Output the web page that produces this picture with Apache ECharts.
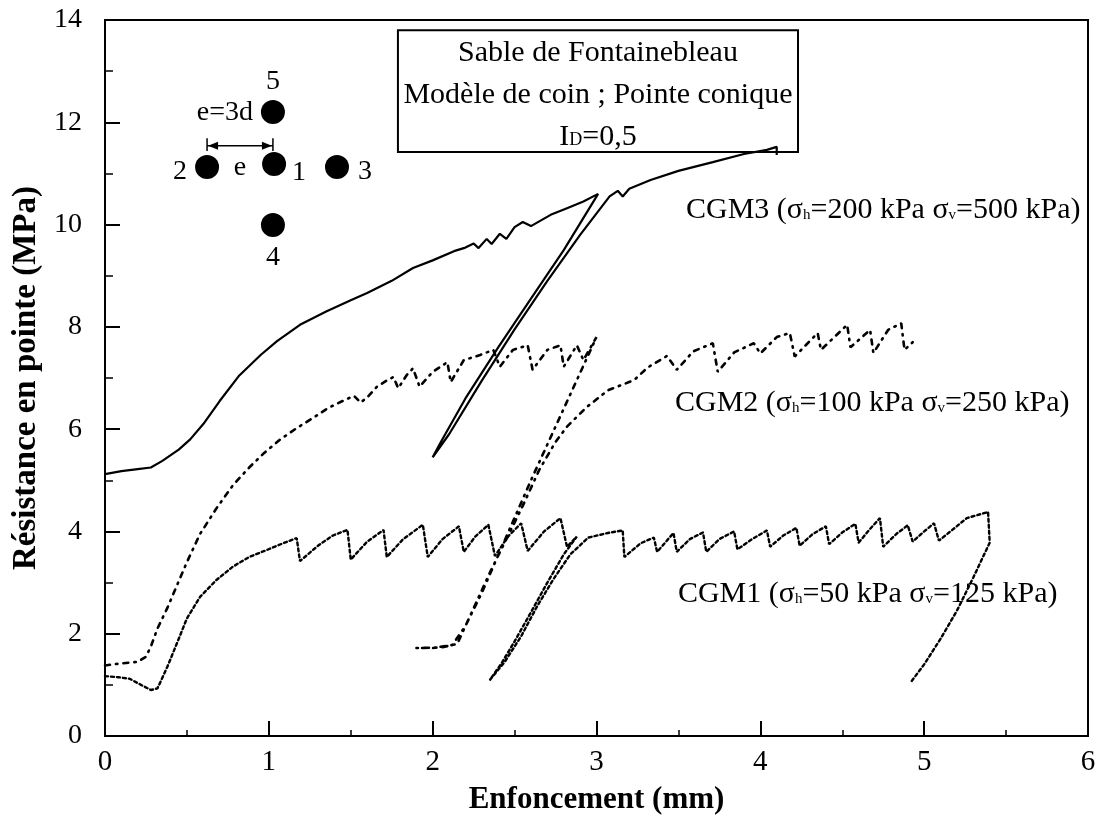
<!DOCTYPE html>
<html><head><meta charset="utf-8">
<script src="https://cdn.jsdelivr.net/npm/echarts@6/dist/echarts.min.js"></script>
<style>html,body{margin:0;padding:0;background:#fff}#c{width:1102px;height:827px}</style>
</head><body><div id="c"></div>
<script>
// ---- data (Enfoncement mm, Résistance MPa) ----
const cgm3 = [[0,5.12],[0.1,5.18],[0.2,5.22],[0.28,5.25],[0.35,5.38],[0.45,5.6],[0.52,5.8],[0.6,6.1],[0.7,6.55],[0.82,7.05],[0.95,7.45],[1.05,7.72],[1.19,8.04],[1.35,8.3],[1.5,8.52],[1.6,8.66],[1.75,8.9],[1.88,9.15],[2.0,9.3],[2.13,9.48],[2.2,9.55],[2.25,9.63],[2.28,9.54],[2.33,9.72],[2.36,9.62],[2.41,9.82],[2.45,9.72],[2.5,9.95],[2.55,10.05],[2.6,9.97],[2.72,10.19],[2.82,10.32],[2.92,10.45],[3.01,10.6],[2.8,9.5],[2.6,8.55],[2.4,7.6],[2.2,6.6],[2.05,5.75],[2.0,5.45],[2.1,5.9],[2.3,6.95],[2.5,7.95],[2.7,8.9],[2.9,9.8],[3.08,10.55],[3.13,10.66],[3.16,10.55],[3.2,10.7],[3.33,10.87],[3.5,11.05],[3.71,11.22],[3.9,11.38],[4.04,11.46],[4.1,11.52],[4.1,11.36]];
const cgm2 = [[0,1.38],[0.1,1.42],[0.2,1.45],[0.25,1.55],[0.28,1.75],[0.32,2.1],[0.38,2.5],[0.44,2.95],[0.5,3.4],[0.58,3.95],[0.68,4.45],[0.78,4.9],[0.88,5.25],[0.97,5.53],[1.07,5.8],[1.17,6.02],[1.27,6.22],[1.36,6.41],[1.45,6.55],[1.52,6.65],[1.56,6.52],[1.6,6.62],[1.66,6.83],[1.72,6.95],[1.76,7.02],[1.79,6.8],[1.84,7.05],[1.88,7.19],[1.92,6.83],[2.0,7.12],[2.09,7.31],[2.11,6.92],[2.19,7.35],[2.29,7.45],[2.37,7.55],[2.41,7.22],[2.49,7.55],[2.58,7.64],[2.61,7.16],[2.7,7.55],[2.78,7.64],[2.8,7.22],[2.88,7.64],[2.92,7.35],[3.0,7.8],[2.9,7.1],[2.75,6.05],[2.6,5.0],[2.45,3.9],[2.3,2.8],[2.2,2.15],[2.12,1.78],[2.0,1.72],[1.9,1.72],[2.05,1.73],[2.15,1.8],[2.25,2.5],[2.35,3.2],[2.45,3.85],[2.55,4.5],[2.65,5.2],[2.75,5.75],[2.82,6.05],[2.94,6.43],[3.07,6.76],[3.23,6.96],[3.31,7.2],[3.43,7.43],[3.49,7.16],[3.59,7.52],[3.71,7.68],[3.74,7.12],[3.84,7.5],[3.96,7.68],[4.0,7.48],[4.1,7.8],[4.18,7.88],[4.21,7.42],[4.35,7.88],[4.37,7.55],[4.53,8.04],[4.55,7.6],[4.67,7.94],[4.69,7.49],[4.78,7.94],[4.86,8.07],[4.88,7.55],[4.93,7.7]];
const cgm1 = [[0,1.17],[0.08,1.15],[0.15,1.12],[0.22,1.0],[0.28,0.9],[0.32,0.93],[0.38,1.35],[0.44,1.82],[0.5,2.3],[0.58,2.72],[0.68,3.05],[0.78,3.31],[0.88,3.5],[0.99,3.64],[1.08,3.76],[1.17,3.87],[1.19,3.42],[1.3,3.72],[1.39,3.92],[1.48,4.03],[1.5,3.45],[1.6,3.8],[1.7,4.03],[1.72,3.5],[1.82,3.85],[1.94,4.13],[1.97,3.5],[2.06,3.85],[2.16,4.1],[2.19,3.6],[2.26,3.9],[2.34,4.13],[2.38,3.52],[2.46,3.9],[2.54,4.16],[2.58,3.62],[2.68,4.0],[2.78,4.26],[2.82,3.7],[2.88,3.9],[2.8,3.55],[2.7,3.0],[2.6,2.42],[2.5,1.85],[2.42,1.42],[2.35,1.1],[2.44,1.45],[2.54,1.95],[2.64,2.55],[2.74,3.08],[2.84,3.55],[2.95,3.88],[3.07,3.97],[3.16,4.02],[3.17,3.5],[3.27,3.77],[3.35,3.88],[3.37,3.6],[3.47,3.97],[3.49,3.6],[3.57,3.85],[3.65,3.98],[3.67,3.6],[3.75,3.85],[3.84,4.0],[3.86,3.65],[3.95,3.85],[4.04,4.02],[4.06,3.7],[4.14,3.92],[4.22,4.07],[4.24,3.72],[4.32,3.95],[4.4,4.1],[4.42,3.75],[4.5,3.98],[4.58,4.15],[4.6,3.78],[4.67,4.05],[4.73,4.26],[4.75,3.7],[4.83,3.95],[4.9,4.12],[4.93,3.8],[5.0,4.0],[5.06,4.16],[5.09,3.82],[5.16,4.0],[5.26,4.26],[5.39,4.38],[5.4,3.78],[5.3,3.1],[5.2,2.45],[5.1,1.9],[5.0,1.4],[4.92,1.06]];
const seriesNames = ['CGM3','CGM2','CGM1'];
const sigmaH = ['200','100','50'];
const sigmaV = ['500','250','125'];
const boxLines = ['Sable de Fontainebleau','Modèle de coin ; Pointe conique','I','D','=0,5'];
const xTitle = 'Enfoncement (mm)';
const yTitle = 'Résistance en pointe (MPa)';

const F = '"Liberation Serif","Times New Roman",serif';
const chart = echarts.init(document.getElementById('c'));
chart.setOption({
  animation:false,
  backgroundColor:'#fff',
  grid:{left:105,right:14,top:20,bottom:91,show:true,borderColor:'#000',borderWidth:2,containLabel:false},
  xAxis:{type:'value',min:0,max:6,interval:1,
    name:xTitle,nameLocation:'middle',nameGap:48,
    nameTextStyle:{fontFamily:F,fontSize:31,fontWeight:'bold',color:'#000'},
    axisLine:{lineStyle:{color:'#000',width:2}},
    axisTick:{inside:true,length:15,lineStyle:{color:'#000',width:2}},
    minorTick:{show:true,splitNumber:2,length:6,lineStyle:{color:'#000',width:1.5}},
    axisLabel:{fontFamily:F,fontSize:29,color:'#000',margin:12},
    splitLine:{show:false}},
  yAxis:{type:'value',min:0,max:14,interval:2,
    name:yTitle,nameLocation:'middle',nameGap:62,nameRotate:90,
    nameTextStyle:{fontFamily:F,fontSize:33,fontWeight:'bold',color:'#000'},
    axisLine:{lineStyle:{color:'#000',width:2}},
    axisTick:{inside:true,length:15,lineStyle:{color:'#000',width:2}},
    minorTick:{show:true,splitNumber:2,length:8,lineStyle:{color:'#000',width:1.5}},
    axisLabel:{fontFamily:F,fontSize:28,color:'#000',margin:23},
    splitLine:{show:false}},
  series:[
    {name:seriesNames[0],type:'line',data:cgm3,symbol:'none',lineStyle:{color:'#000',width:2.2}},
    {name:seriesNames[1],type:'line',data:cgm2,symbol:'none',lineStyle:{color:'#000',width:2.6,type:[5,6,1.5,6],cap:'round'}},
    {name:seriesNames[2],type:'line',data:cgm1,symbol:'none',lineStyle:{color:'#000',width:2.4,type:[3,3],cap:'round'}}
  ]
});

function P(x,y){return chart.convertToPixel({gridIndex:0},[x,y]);}
const g = [];
// legend box
const b0 = P(1.788,13.8), b1 = P(4.23,11.42);
g.push({type:'rect',shape:{x:b0[0],y:b0[1],width:b1[0]-b0[0],height:b1[1]-b0[1]},style:{fill:'none',stroke:'#000',lineWidth:2},z:10});
const cx = (b0[0]+b1[0])/2;
const lineY = [13.35,12.53,11.71];
g.push({type:'text',z:11,style:{text:boxLines[0],x:cx,y:P(0,lineY[0])[1],font:'30px '+F,fill:'#000',align:'center',verticalAlign:'middle',textAlign:'center',textVerticalAlign:'middle'}});
g.push({type:'text',z:11,style:{text:boxLines[1],x:cx,y:P(0,lineY[1])[1],font:'30px '+F,fill:'#000',align:'center',verticalAlign:'middle',textAlign:'center',textVerticalAlign:'middle'}});
g.push({type:'text',z:11,style:{text:'{m|'+boxLines[2]+'}{s|'+boxLines[3]+'}{m|'+boxLines[4]+'}',x:cx,y:P(0,lineY[2])[1],align:'center',verticalAlign:'middle',textAlign:'center',textVerticalAlign:'middle',
  rich:{m:{fontFamily:F,fontSize:30,color:'#000',verticalAlign:'bottom'},s:{fontFamily:F,fontSize:18,color:'#000',verticalAlign:'bottom',padding:[0,0,3,0]}}}});
// curve labels
const labPos = [[3.546,10.285],[3.479,6.51],[3.497,2.777]];
for(let i=0;i<3;i++){
  const p = P(labPos[i][0],labPos[i][1]);
  g.push({type:'text',z:11,style:{x:p[0],y:p[1],align:'left',verticalAlign:'middle',textAlign:'left',textVerticalAlign:'middle',
    text:'{m|'+seriesNames[i]+' (σ}{s|h}{m|='+sigmaH[i]+' kPa σ}{s|v}{m|='+sigmaV[i]+' kPa)}',
    rich:{m:{fontFamily:F,fontSize:30,color:'#000',verticalAlign:'bottom'},s:{fontFamily:F,fontSize:15,color:'#000',verticalAlign:'bottom',padding:[0,0,2,0]}}}});
}
// inset diagram: pile positions
const dots = [[1.032,11.185],[0.623,11.127],[1.416,11.127],[1.025,9.992],[1.025,12.20]];
dots.forEach(d=>{const p=P(d[0],d[1]);g.push({type:'circle',z:11,shape:{cx:p[0],cy:p[1],r:12},style:{fill:'#000'}});});
const insetTexts = [['5',1.025,12.79,'center'],['e=3d',0.903,12.18,'right'],['2',0.458,11.03,'center'],['e',0.824,11.11,'center'],['1',1.184,11.01,'center'],['3',1.587,11.03,'center'],['4',1.025,9.35,'center']];
insetTexts.forEach(t=>{const p=P(t[1],t[2]);g.push({type:'text',z:11,style:{text:t[0],x:p[0],y:p[1],font:'28px '+F,fill:'#000',align:t[3],verticalAlign:'middle',textAlign:t[3],textVerticalAlign:'middle'}});});
// dimension arrow
const a0 = P(0.623,11.54), a1 = P(1.025,11.54), t0 = P(0.623,11.69), t1 = P(0.623,11.44), u0 = P(1.025,11.69), u1 = P(1.025,11.44);
g.push({type:'line',z:11,shape:{x1:a0[0],y1:a0[1],x2:a1[0],y2:a1[1]},style:{stroke:'#000',lineWidth:1.5}});
g.push({type:'line',z:11,shape:{x1:t0[0],y1:t0[1],x2:t1[0],y2:t1[1]},style:{stroke:'#000',lineWidth:1.5}});
g.push({type:'line',z:11,shape:{x1:u0[0],y1:u0[1],x2:u1[0],y2:u1[1]},style:{stroke:'#000',lineWidth:1.5}});
g.push({type:'polygon',z:11,shape:{points:[[a0[0]+1,a0[1]],[a0[0]+11,a0[1]-4],[a0[0]+11,a0[1]+4]]},style:{fill:'#000'}});
g.push({type:'polygon',z:11,shape:{points:[[a1[0]-1,a1[1]],[a1[0]-11,a1[1]-4],[a1[0]-11,a1[1]+4]]},style:{fill:'#000'}});
chart.setOption({graphic:g});
</script></body></html>
